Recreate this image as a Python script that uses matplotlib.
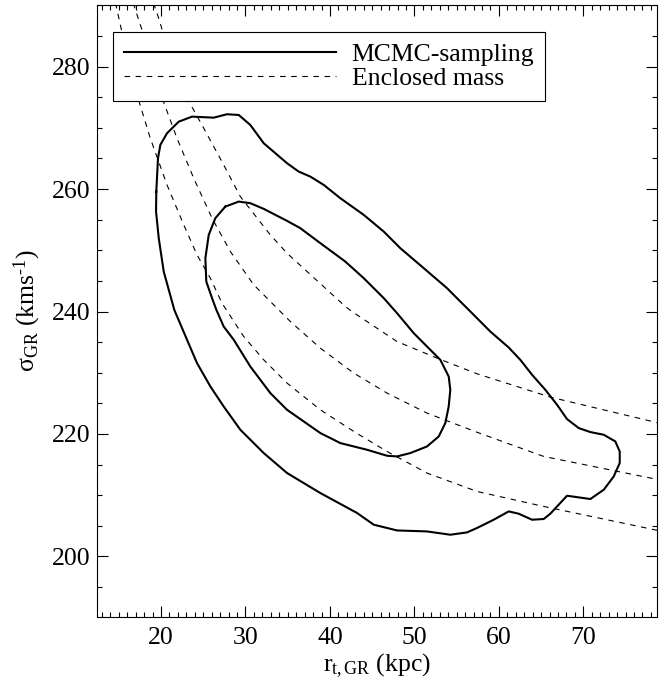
import matplotlib
matplotlib.use("Agg")
import matplotlib.pyplot as plt
from matplotlib.ticker import MultipleLocator

plt.rcParams['font.family'] = ['Liberation Serif', 'DejaVu Serif']
plt.rcParams['mathtext.fontset'] = 'custom'
plt.rcParams['mathtext.rm'] = 'Liberation Serif'
plt.rcParams['mathtext.it'] = 'Liberation Serif:italic'

# outer (95%) MCMC contour, r_t (kpc) and sigma (km/s)
outer_r = [19.44, 19.64, 19.92, 20.71, 22.10, 23.67, 26.24, 27.81, 29.20, 30.57,
           32.16, 34.92, 36.30, 37.68, 39.26, 41.23, 44.00, 46.37, 48.33, 51.10,
           53.86, 55.44, 56.43, 57.41, 58.99, 61.17, 62.54, 63.93, 65.50, 66.89,
           68.07, 69.46, 70.83, 72.42, 73.79, 74.31, 74.31, 73.60, 72.42, 70.83,
           68.07, 66.09, 65.31, 63.93, 62.35, 61.17, 59.39, 57.41, 56.23, 54.25,
           51.49, 47.94, 45.18, 43.21, 38.86, 34.92, 32.16, 29.39, 27.42, 25.84,
           24.26, 23.08, 21.57, 20.32, 19.73, 19.41, 19.44]
outer_s = [259.59, 265.04, 267.22, 269.13, 271.02, 271.84, 271.67, 272.23, 272.11, 270.48,
           267.49, 264.23, 262.86, 262.04, 260.69, 258.51, 255.79, 253.06, 250.35, 247.09,
           243.82, 241.63, 240.28, 238.92, 236.73, 234.12, 232.11, 229.67, 227.22, 224.77,
           222.43, 220.96, 220.31, 219.87, 218.78, 217.14, 215.25, 213.06, 210.89, 209.37,
           209.91, 206.97, 206.11, 205.99, 206.97, 207.35, 205.99, 204.64, 203.92, 203.54,
           204.08, 204.24, 205.18, 207.09, 210.35, 213.62, 216.88, 220.69, 224.49, 227.76,
           231.58, 235.38, 240.28, 246.53, 251.98, 256.33, 259.59]

# inner (68%) MCMC contour
inner_r = [27.61, 29.20, 30.57, 32.16, 34.92, 36.49, 38.86, 41.82, 44.00, 46.37,
           47.94, 49.92, 51.49, 53.07, 54.06, 54.25, 54.06, 53.66, 52.88, 51.49,
           49.52, 47.94, 46.76, 44.39, 41.23, 38.86, 36.90, 34.92, 32.94, 30.57,
           28.61, 27.42, 26.55, 26.04, 25.36, 25.25, 25.65, 26.43, 27.61]
inner_s = [257.14, 257.96, 257.70, 256.77, 254.81, 253.62, 251.17, 248.16, 245.45, 242.19,
           239.74, 236.47, 234.29, 232.11, 229.39, 227.22, 224.49, 221.78, 219.59, 217.96,
           216.88, 216.33, 216.44, 217.42, 218.51, 220.15, 222.04, 223.95, 226.68, 231.02,
           235.38, 237.55, 240.28, 242.19, 244.90, 248.72, 252.52, 255.25, 257.14]

# enclosed mass curves
massA_r = [14.61, 15.97, 17.16, 18.73, 20.71, 22.69, 24.26, 25.84, 27.22, 29.79,
           32.16, 34.92, 38.86, 42.82, 46.76, 51.49, 57.41, 65.31, 78.96]
massA_s = [290.4, 281.91, 275.38, 268.31, 260.69, 254.16, 249.26, 245.45, 241.37, 235.92,
           232.11, 228.31, 223.95, 220.41, 217.14, 213.62, 210.61, 208.16, 204.20]
massB_r = [16.72, 17.36, 18.73, 19.92, 21.89, 23.87, 26.04, 28.21, 30.98, 33.34,
           35.31, 38.86, 42.82, 46.76, 51.49, 57.41, 65.31, 78.96]
massB_s = [290.4, 287.62, 281.91, 275.66, 268.31, 261.78, 255.25, 249.80, 244.36, 241.09,
           238.37, 234.02, 229.94, 226.68, 223.41, 220.28, 216.33, 212.52]
massC_r = [19.11, 19.73, 20.91, 22.88, 25.06, 27.42, 29.39, 32.94, 34.92, 41.82,
           42.61, 47.94, 52.68, 57.41, 66.09, 78.96]
massC_s = [290.4, 287.90, 282.45, 275.38, 269.94, 263.95, 258.78, 252.52, 249.53, 240.82,
           240.0, 235.10, 232.39, 229.83, 226.02, 221.78]

fig = plt.figure(figsize=(6.59, 6.89), dpi=100)
ax = fig.add_axes([0.1472, 0.1045, 0.8505, 0.8882])

ax.plot(outer_r, outer_s, color='black', lw=1.5, label='MCMC-sampling')
ax.plot(inner_r, inner_s, color='black', lw=1.5)
ax.plot(massA_r, massA_s, color='black', lw=0.8, ls=(0, (5, 5)), label='Enclosed mass')
ax.plot(massB_r, massB_s, color='black', lw=0.8, ls=(0, (5, 5)))
ax.plot(massC_r, massC_s, color='black', lw=0.8, ls=(0, (5, 5)))

ax.set_xlim(12.42, 78.78)
ax.set_ylim(190.1, 290.07)
ax.xaxis.set_major_locator(MultipleLocator(10))
ax.xaxis.set_minor_locator(MultipleLocator(1))
ax.yaxis.set_major_locator(MultipleLocator(20))
ax.yaxis.set_minor_locator(MultipleLocator(5))
ax.tick_params(which='both', direction='in', top=True, right=True, width=0.8,
               labelsize=18.5)
ax.tick_params(which='major', length=8)
ax.tick_params(which='minor', length=3.6)
ax.tick_params(axis='x', pad=7)
ax.tick_params(axis='y', pad=5)
for sp in ax.spines.values():
    sp.set_linewidth(0.8)

ax.set_xlabel(r'r$_{\mathrm{t,GR}}$ (kpc)', fontsize=18.5, labelpad=2)
ax.set_ylabel(r'$\mathrm{\sigma_{GR}}$ (kms$^{\text{-1}}$)', fontsize=18.5, labelpad=6)

leg = ax.legend(loc='upper left', bbox_to_anchor=(0.0285, 0.956), borderaxespad=0,
                fontsize=18.5, handlelength=8.25, handletextpad=0.62, labelspacing=0.05,
                borderpad=0.42, fancybox=False, edgecolor='black', framealpha=1)
leg.get_frame().set_linewidth(0.8)

fig.savefig('out.png', dpi=100)
